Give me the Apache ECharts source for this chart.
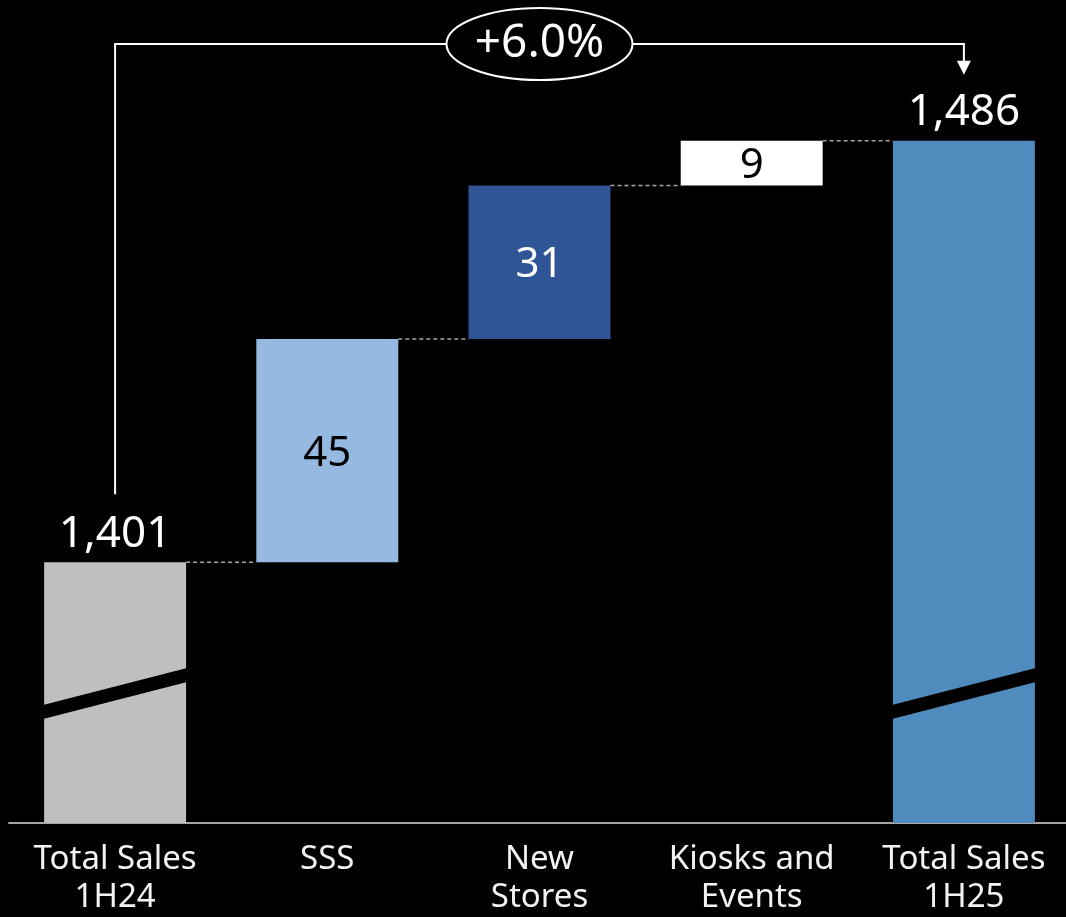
<!DOCTYPE html>
<html>
<head>
<meta charset="utf-8">
<script src="https://cdn.jsdelivr.net/npm/echarts@6/dist/echarts.min.js"></script>
<style>
  html, body { margin: 0; padding: 0; background: #000; overflow: hidden; }
  #box { width: 1070px; height: 917px; }
</style>
</head>
<body>
<div id="box"></div>
<script>
// waterfall data
const categories = ['Total Sales\n1H24', 'SSS', 'New\nStores', 'Kiosks and\nEvents', 'Total Sales\n1H25'];
const steps = [1401, 45, 31, 9, 1486];
const isTotal = [true, false, false, false, true];
const stepLabels = ['1,401', '45', '31', '9', '1,486'];
const growthLabel = '+6.0%';

const barColors = ['#bfbfbf', '#95b9e1', '#2f5597', '#ffffff', '#4f8bbd'];
const labelColors = ['#ffffff', '#000000', '#ffffff', '#000000', '#ffffff'];
const FONT = 'Noto Sans';

// running totals -> invisible base under each step
let run = 0;
const baseData = [];
const tops = [];
steps.forEach((v, i) => {
  if (isTotal[i]) {
    baseData.push(0);
    run = v;
  } else {
    baseData.push(run);
    run += v;
  }
  tops.push(run);
});

const chart = echarts.init(document.getElementById('box'));

const BAR_RATIO = 0.669;
const Y_MIN = 1348.4;

const option = {
  backgroundColor: '#000',
  animation: false,
  grid: { left: 9, right: 0, top: 0, bottom: 93 },
  xAxis: {
    type: 'category',
    data: categories,
    axisLine: { show: true, lineStyle: { color: '#a6a6a6', width: 2 } },
    axisTick: { show: false },
    axisLabel: {
      color: '#f2f2f2',
      fontFamily: FONT,
      fontSize: 33,
      lineHeight: 38,
      margin: 18,
      interval: 0,
    },
  },
  yAxis: {
    type: 'value',
    min: Y_MIN,
    max: 1514.4,
    show: false,
    splitLine: { show: false },
  },
  series: [
    {
      type: 'bar',
      stack: 'wf',
      barWidth: BAR_RATIO * 100 + '%',
      itemStyle: { color: 'transparent' },
      data: baseData,
      silent: true,
    },
    {
      type: 'bar',
      stack: 'wf',
      barWidth: BAR_RATIO * 100 + '%',
      data: steps.map((v, i) => ({
        value: v,
        itemStyle: { color: barColors[i] },
        label: {
          show: true,
          position: isTotal[i] ? 'top' : 'inside',
          distance: 6,
          offset: isTotal[i] ? [0, 0] : [0, 3],
          formatter: stepLabels[i],
          color: labelColors[i],
          fontFamily: FONT,
          fontSize: isTotal[i] ? 44 : 42,
        },
      })),
    },
    // axis break marks on the total bars
    {
      type: 'custom',
      z: 5,
      data: isTotal.map((t, i) => (t ? [i] : null)).filter((d) => d),
      renderItem(params, api) {
        const idx = api.value(0);
        const p = api.coord([idx, Y_MIN]);
        const hw = (api.size([1, 0])[0] * BAR_RATIO) / 2;
        const yl = p[1] - 111;
        const yr = p[1] - 148;
        return {
          type: 'polygon',
          shape: {
            points: [
              [p[0] - hw - 1, yl - 7],
              [p[0] + hw + 1, yr - 7],
              [p[0] + hw + 1, yr + 7],
              [p[0] - hw - 1, yl + 7],
            ],
          },
          style: { fill: '#000' },
        };
      },
    },
    // dashed connectors between bars
    {
      type: 'custom',
      z: 1,
      data: tops.slice(0, -1).map((v, i) => [i, v]),
      renderItem(params, api) {
        const i = api.value(0);
        const v = api.value(1);
        const a = api.coord([i, v]);
        const b = api.coord([i + 1, v]);
        const hw = (api.size([1, 0])[0] * BAR_RATIO) / 2;
        return {
          type: 'line',
          shape: { x1: a[0] + hw, y1: a[1], x2: b[0] - hw, y2: b[1] },
          style: { stroke: '#a6a6a6', lineWidth: 1.5, lineDash: [4, 3] },
        };
      },
    },
    // growth bracket with ellipse
    {
      type: 'custom',
      z: 6,
      data: [[0, steps[0], steps.length - 1, steps[steps.length - 1]]],
      renderItem(params, api) {
        const a = api.coord([api.value(0), api.value(1)]);
        const b = api.coord([api.value(2), api.value(3)]);
        const topY = 44;
        const y0 = a[1] - 68;
        const y1 = b[1] - 66;
        const cx = (a[0] + b[0]) / 2;
        const line = { stroke: '#ffffff', lineWidth: 2, fill: null };
        return {
          type: 'group',
          children: [
            {
              type: 'polyline',
              shape: { points: [[a[0], y0], [a[0], topY], [b[0], topY], [b[0], y1 - 12]] },
              style: line,
            },
            {
              type: 'polygon',
              shape: { points: [[b[0] - 7, y1 - 14], [b[0] + 7, y1 - 14], [b[0], y1]] },
              style: { fill: '#ffffff' },
            },
            {
              type: 'ellipse',
              shape: { cx: cx, cy: topY, rx: 93, ry: 36 },
              style: { fill: '#000', stroke: '#ffffff', lineWidth: 2 },
            },
            {
              type: 'text',
              x: cx,
              y: topY,
              style: {
                text: growthLabel,
                fill: '#ffffff',
                fontFamily: FONT,
                fontSize: 46,
                align: 'center',
                verticalAlign: 'middle',
              },
            },
          ],
        };
      },
    },
  ],
};

chart.setOption(option);
</script>
</body>
</html>
